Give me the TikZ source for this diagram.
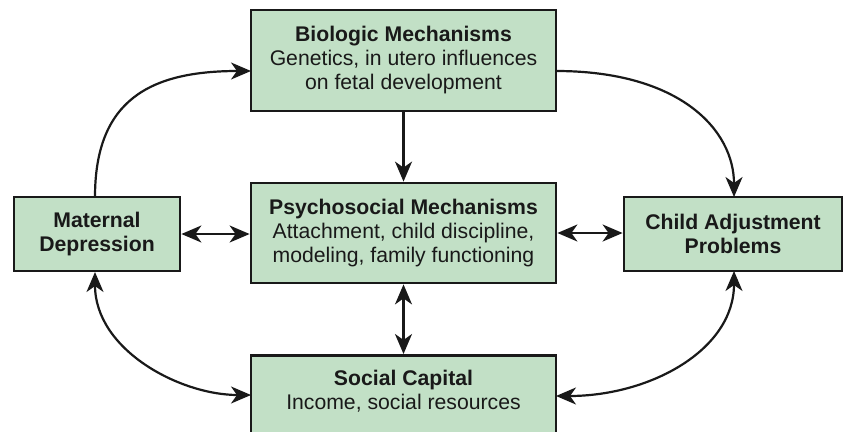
\documentclass[tikz,border=0pt]{standalone}
\usepackage{fontspec}
\setmainfont{Liberation Sans}
\usetikzlibrary{arrows.meta}
\definecolor{boxfill}{RGB}{194,224,198}
\definecolor{ink}{RGB}{25,25,25}
\tikzset{
  box/.style={draw=ink, line width=2.8pt, fill=boxfill, rectangle, inner sep=0pt,
    align=center, font=\fontsize{21.2}{24}\selectfont, text=ink},
  conn/.style={draw=ink, line width=2.2pt, -{Stealth[length=20pt,width=17pt,inset=6pt]}},
  conn2/.style={draw=ink, line width=2.2pt, {Stealth[length=20pt,width=17pt,inset=6pt]}-{Stealth[length=20pt,width=17pt,inset=6pt]}}
}
\begin{document}
\begin{tikzpicture}[x=1pt,y=-1pt]
\useasboundingbox (0,0) rectangle (850,431);
\clip (0,0) rectangle (850,431);
\node[box, minimum width=305pt, minimum height=101pt] (bio) at (403.5,60.5)
  {\textbf{Biologic Mechanisms}\\Genetics, in utero influences\\on fetal development};
\node[box, minimum width=305pt, minimum height=100pt] (psy) at (403.5,233)
  {\textbf{Psychosocial Mechanisms}\\Attachment, child discipline,\\modeling, family functioning};
\node[box, minimum width=166pt, minimum height=74pt] (mat) at (97,234)
  {\textbf{Maternal}\\\textbf{Depression}};
\node[box, minimum width=218pt, minimum height=74pt] (chi) at (733,234)
  {\textbf{Child Adjustment}\\\textbf{Problems}};
\node[box, minimum width=305pt, minimum height=100pt, anchor=north] (soc) at (403.5,354)
  {};
\node[font=\fontsize{21.2}{24}\selectfont, text=ink, align=center] (soct) at (403.5,391)
  {\textbf{Social Capital}\\Income, social resources};
\coordinate (bioL) at (251,71);
\coordinate (bioR) at (556,71);
\coordinate (matT) at (95,197);
\coordinate (matB) at (95,272);
\coordinate (chiT) at (734,197);
\coordinate (chiB) at (734,271);
\coordinate (socL) at (251,395);
\coordinate (socR) at (556,396);
\draw[conn] (bio.south) -- (psy.north);
\draw[conn2] (psy.south) -- (soc.north);
\draw[conn2] (mat.east) -- (mat.east -| psy.west);
\draw[conn2] (psy.east) -- (psy.east -| chi.west);
\draw[conn] (matT) .. controls (95,100) and (150,71) .. (bioL);
\draw[conn] (bioR) .. controls (680,71) and (734,130) .. (chiT);
\draw[conn2] (matB) .. controls (95,350) and (180,395) .. (socL);
\draw[conn2] (chiB) .. controls (734,350) and (650,396) .. (socR);
\end{tikzpicture}
\end{document}
